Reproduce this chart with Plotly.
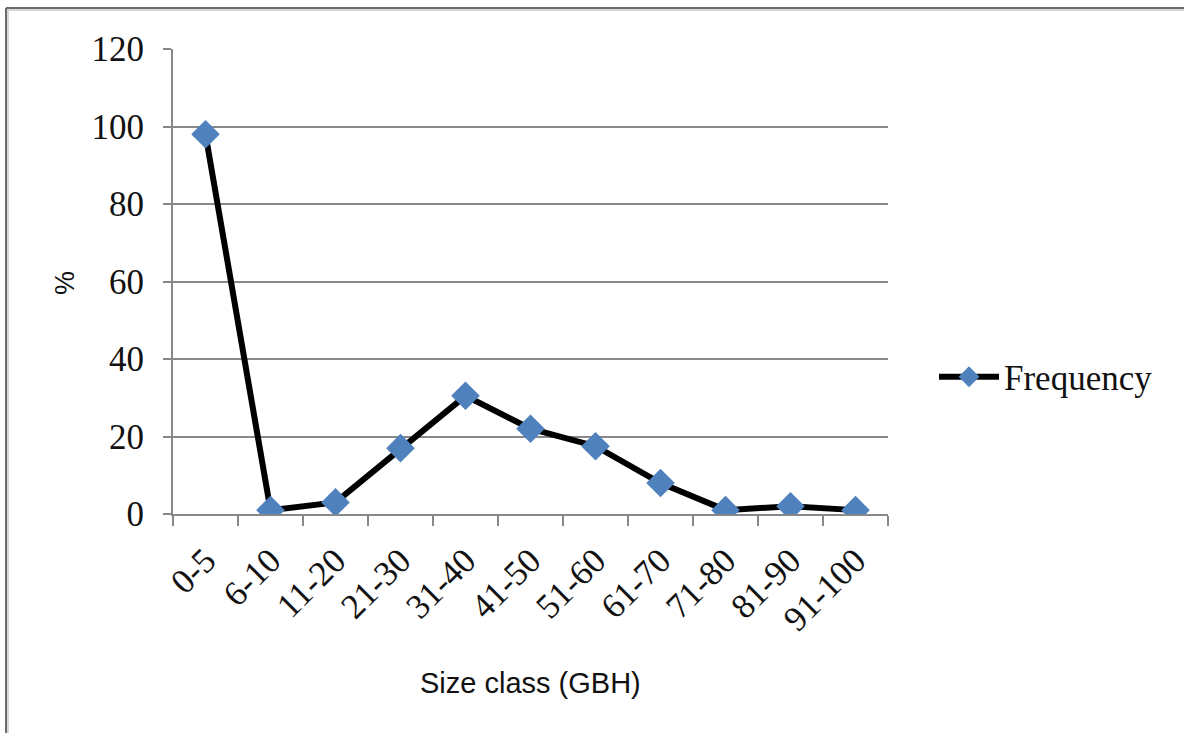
import plotly.graph_objects as go

# Size classes (girth at breast height) and their frequency in percent
size_classes = ["0-5", "6-10", "11-20", "21-30", "31-40", "41-50",
                "51-60", "61-70", "71-80", "81-90", "91-100"]
frequency = [98, 1, 3, 17, 30.5, 22, 17.5, 8, 1, 2, 1]

y_ticks = [0, 20, 40, 60, 80, 100, 120]

W, H = 1184, 733
L, R, T, B = 173, 296, 49, 219
plot_w = W - L - R
plot_h = H - T - B


def px_to_paper_x(px):
    return (px - L) / plot_w


def px_to_paper_y(py):
    return (H - B - py) / plot_h


grid_col = "#888888"
text_col = "#111111"
serif = "Liberation Serif, Times New Roman, serif"
sans = "Liberation Sans, Arial, sans-serif"

fig = go.Figure()
fig.add_trace(go.Scatter(
    x=size_classes,
    y=frequency,
    mode="lines+markers",
    name="Frequency",
    line=dict(color="black", width=6),
    marker=dict(symbol="diamond", size=22, color="#4F81BD",
                line=dict(width=0)),
))

fig.update_layout(
    width=W, height=H,
    margin=dict(l=L, r=R, t=T, b=B),
    paper_bgcolor="white",
    plot_bgcolor="white",
    showlegend=True,
    legend=dict(
        x=px_to_paper_x(934), y=px_to_paper_y(377),
        xanchor="left", yanchor="middle",
        font=dict(family=serif, size=35, color=text_col),
        bgcolor="rgba(0,0,0,0)",
        itemwidth=60,
    ),
    xaxis=dict(
        type="category",
        range=[-0.5, len(size_classes) - 0.5],
        tickson="boundaries",
        ticks="outside", ticklen=10, tickwidth=2, tickcolor=grid_col,
        showline=True, linecolor=grid_col, linewidth=2,
        showgrid=False,
        tickangle=-45,
        ticklabelstandoff=10,
        tickfont=dict(family=serif, size=35, color=text_col),
        fixedrange=True,
    ),
    yaxis=dict(
        range=[0, 120],
        tickvals=y_ticks,
        ticks="outside", ticklen=8, tickwidth=2, tickcolor=grid_col,
        showline=True, linecolor=grid_col, linewidth=2,
        showgrid=True, gridcolor=grid_col, gridwidth=2,
        zeroline=False,
        ticklabelstandoff=12,
        tickfont=dict(family=serif, size=35, color=text_col),
        fixedrange=True,
    ),
    annotations=[
        dict(text="Size class (GBH)", xref="paper", yref="paper",
             x=px_to_paper_x(530), y=px_to_paper_y(683),
             xanchor="center", yanchor="middle", showarrow=False,
             font=dict(family=sans, size=29, color=text_col)),
        dict(text="%", xref="paper", yref="paper",
             x=px_to_paper_x(65), y=px_to_paper_y(283),
             xanchor="center", yanchor="middle", showarrow=False,
             textangle=-90,
             font=dict(family=sans, size=27, color=text_col)),
    ],
    shapes=[
        # outer chart frame (top and left edges)
        dict(type="line", xref="paper", yref="paper",
             x0=px_to_paper_x(6), y0=px_to_paper_y(8),
             x1=px_to_paper_x(1200), y1=px_to_paper_y(8),
             line=dict(color="#6a6a6a", width=2)),
        dict(type="line", xref="paper", yref="paper",
             x0=px_to_paper_x(6), y0=px_to_paper_y(8),
             x1=px_to_paper_x(6), y1=px_to_paper_y(760),
             line=dict(color="#6a6a6a", width=2)),
        dict(type="line", xref="paper", yref="paper",
             x0=px_to_paper_x(7), y0=px_to_paper_y(10),
             x1=px_to_paper_x(1200), y1=px_to_paper_y(10),
             line=dict(color="#d8d8d8", width=2)),
        dict(type="line", xref="paper", yref="paper",
             x0=px_to_paper_x(8), y0=px_to_paper_y(10),
             x1=px_to_paper_x(8), y1=px_to_paper_y(760),
             line=dict(color="#d8d8d8", width=2)),
    ],
)

fig.write_html("out.html")
